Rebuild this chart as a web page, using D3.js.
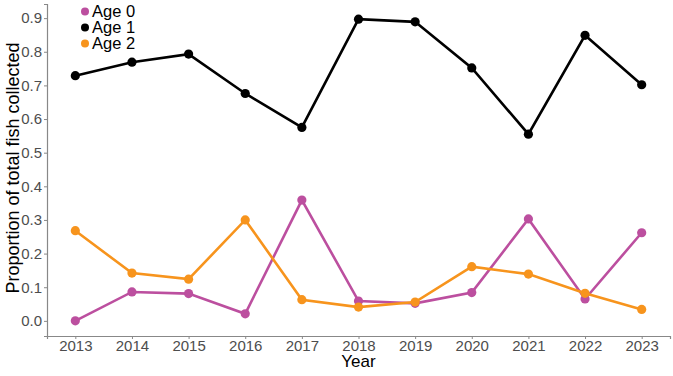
<!DOCTYPE html>
<html>
<head>
<meta charset="utf-8">
<script src="https://cdn.jsdelivr.net/npm/d3@7"></script>
<style>
  body { margin: 0; background: #fff; }
  text { font-family: "Liberation Sans", Arial, sans-serif; }
</style>
</head>
<body>
<div id="chart"></div>
<script>
var years = [2013, 2014, 2015, 2016, 2017, 2018, 2019, 2020, 2021, 2022, 2023];
var age0 = [0.000, 0.086, 0.081, 0.021, 0.359, 0.059, 0.052, 0.084, 0.303, 0.065, 0.262];
var age1 = [0.729, 0.769, 0.793, 0.676, 0.575, 0.897, 0.889, 0.752, 0.555, 0.849, 0.702];
var age2 = [0.268, 0.142, 0.124, 0.300, 0.063, 0.041, 0.056, 0.161, 0.139, 0.082, 0.034];
var seriesNames = ["Age 0", "Age 1", "Age 2"];
var seriesColors = ["#BC4F9F", "#000000", "#F7941D"];
var yTicks = [0, 0.1, 0.2, 0.3, 0.4, 0.5, 0.6, 0.7, 0.8, 0.9];

var width = 673, height = 376;
var margin = {top: 4, right: 3, bottom: 40, left: 47};

var svg = d3.select("#chart").append("svg")
  .attr("width", width)
  .attr("height", height);

var x = d3.scaleLinear()
  .domain([2012.5, 2023.5])
  .range([margin.left, width - margin.right]);

var y = d3.scaleLinear()
  .domain([-0.045, 0.942])
  .range([height - margin.bottom, margin.top]);

// axes
var xAxis = svg.append("g")
  .attr("transform", "translate(0," + (height - margin.bottom) + ")")
  .call(d3.axisBottom(x).tickValues(years).tickFormat(d3.format("d")).tickSize(3).tickPadding(1));

var yAxis = svg.append("g")
  .attr("transform", "translate(" + margin.left + ",0)")
  .call(d3.axisLeft(y).tickValues(yTicks).tickFormat(d3.format(".1f")).tickSize(3).tickPadding(2));

[xAxis, yAxis].forEach(function(g) {
  g.select(".domain").attr("stroke", "#888").attr("stroke-width", 1.2);
  g.selectAll(".tick line").attr("stroke", "#888");
  g.selectAll(".tick text").attr("fill", "#4d4d4d").style("font-size", "15px");
});

// axis titles
svg.append("text")
  .attr("x", (margin.left + width - margin.right) / 2)
  .attr("y", 366.5)
  .attr("text-anchor", "middle")
  .style("font-size", "17px")
  .text("Year");

svg.append("text")
  .attr("transform", "translate(19,168) rotate(-90)")
  .attr("text-anchor", "middle")
  .style("font-size", "18px")
  .text("Proportion of total fish collected");

// series
var data = [age0, age1, age2];
var line = d3.line()
  .x(function(d, i) { return x(years[i]); })
  .y(function(d) { return y(d); });

// draw order: age 0 under age 2 like the reference
[0, 2, 1].forEach(function(k) {
  svg.append("path")
    .datum(data[k])
    .attr("fill", "none")
    .attr("stroke", seriesColors[k])
    .attr("stroke-width", 2.6)
    .attr("d", line);
  svg.append("g").selectAll("circle")
    .data(data[k])
    .enter().append("circle")
    .attr("cx", function(d, i) { return x(years[i]); })
    .attr("cy", function(d) { return y(d); })
    .attr("r", 4.6)
    .attr("fill", seriesColors[k]);
});

// legend
var legend = svg.append("g").attr("transform", "translate(85,11.5)");
seriesNames.forEach(function(name, i) {
  legend.append("circle")
    .attr("cx", 0)
    .attr("cy", i * 16)
    .attr("r", 4)
    .attr("fill", seriesColors[i]);
  legend.append("text")
    .attr("x", 7)
    .attr("y", i * 16 + 5)
    .style("font-size", "16.5px")
    .text(name);
});
</script>
</body>
</html>
